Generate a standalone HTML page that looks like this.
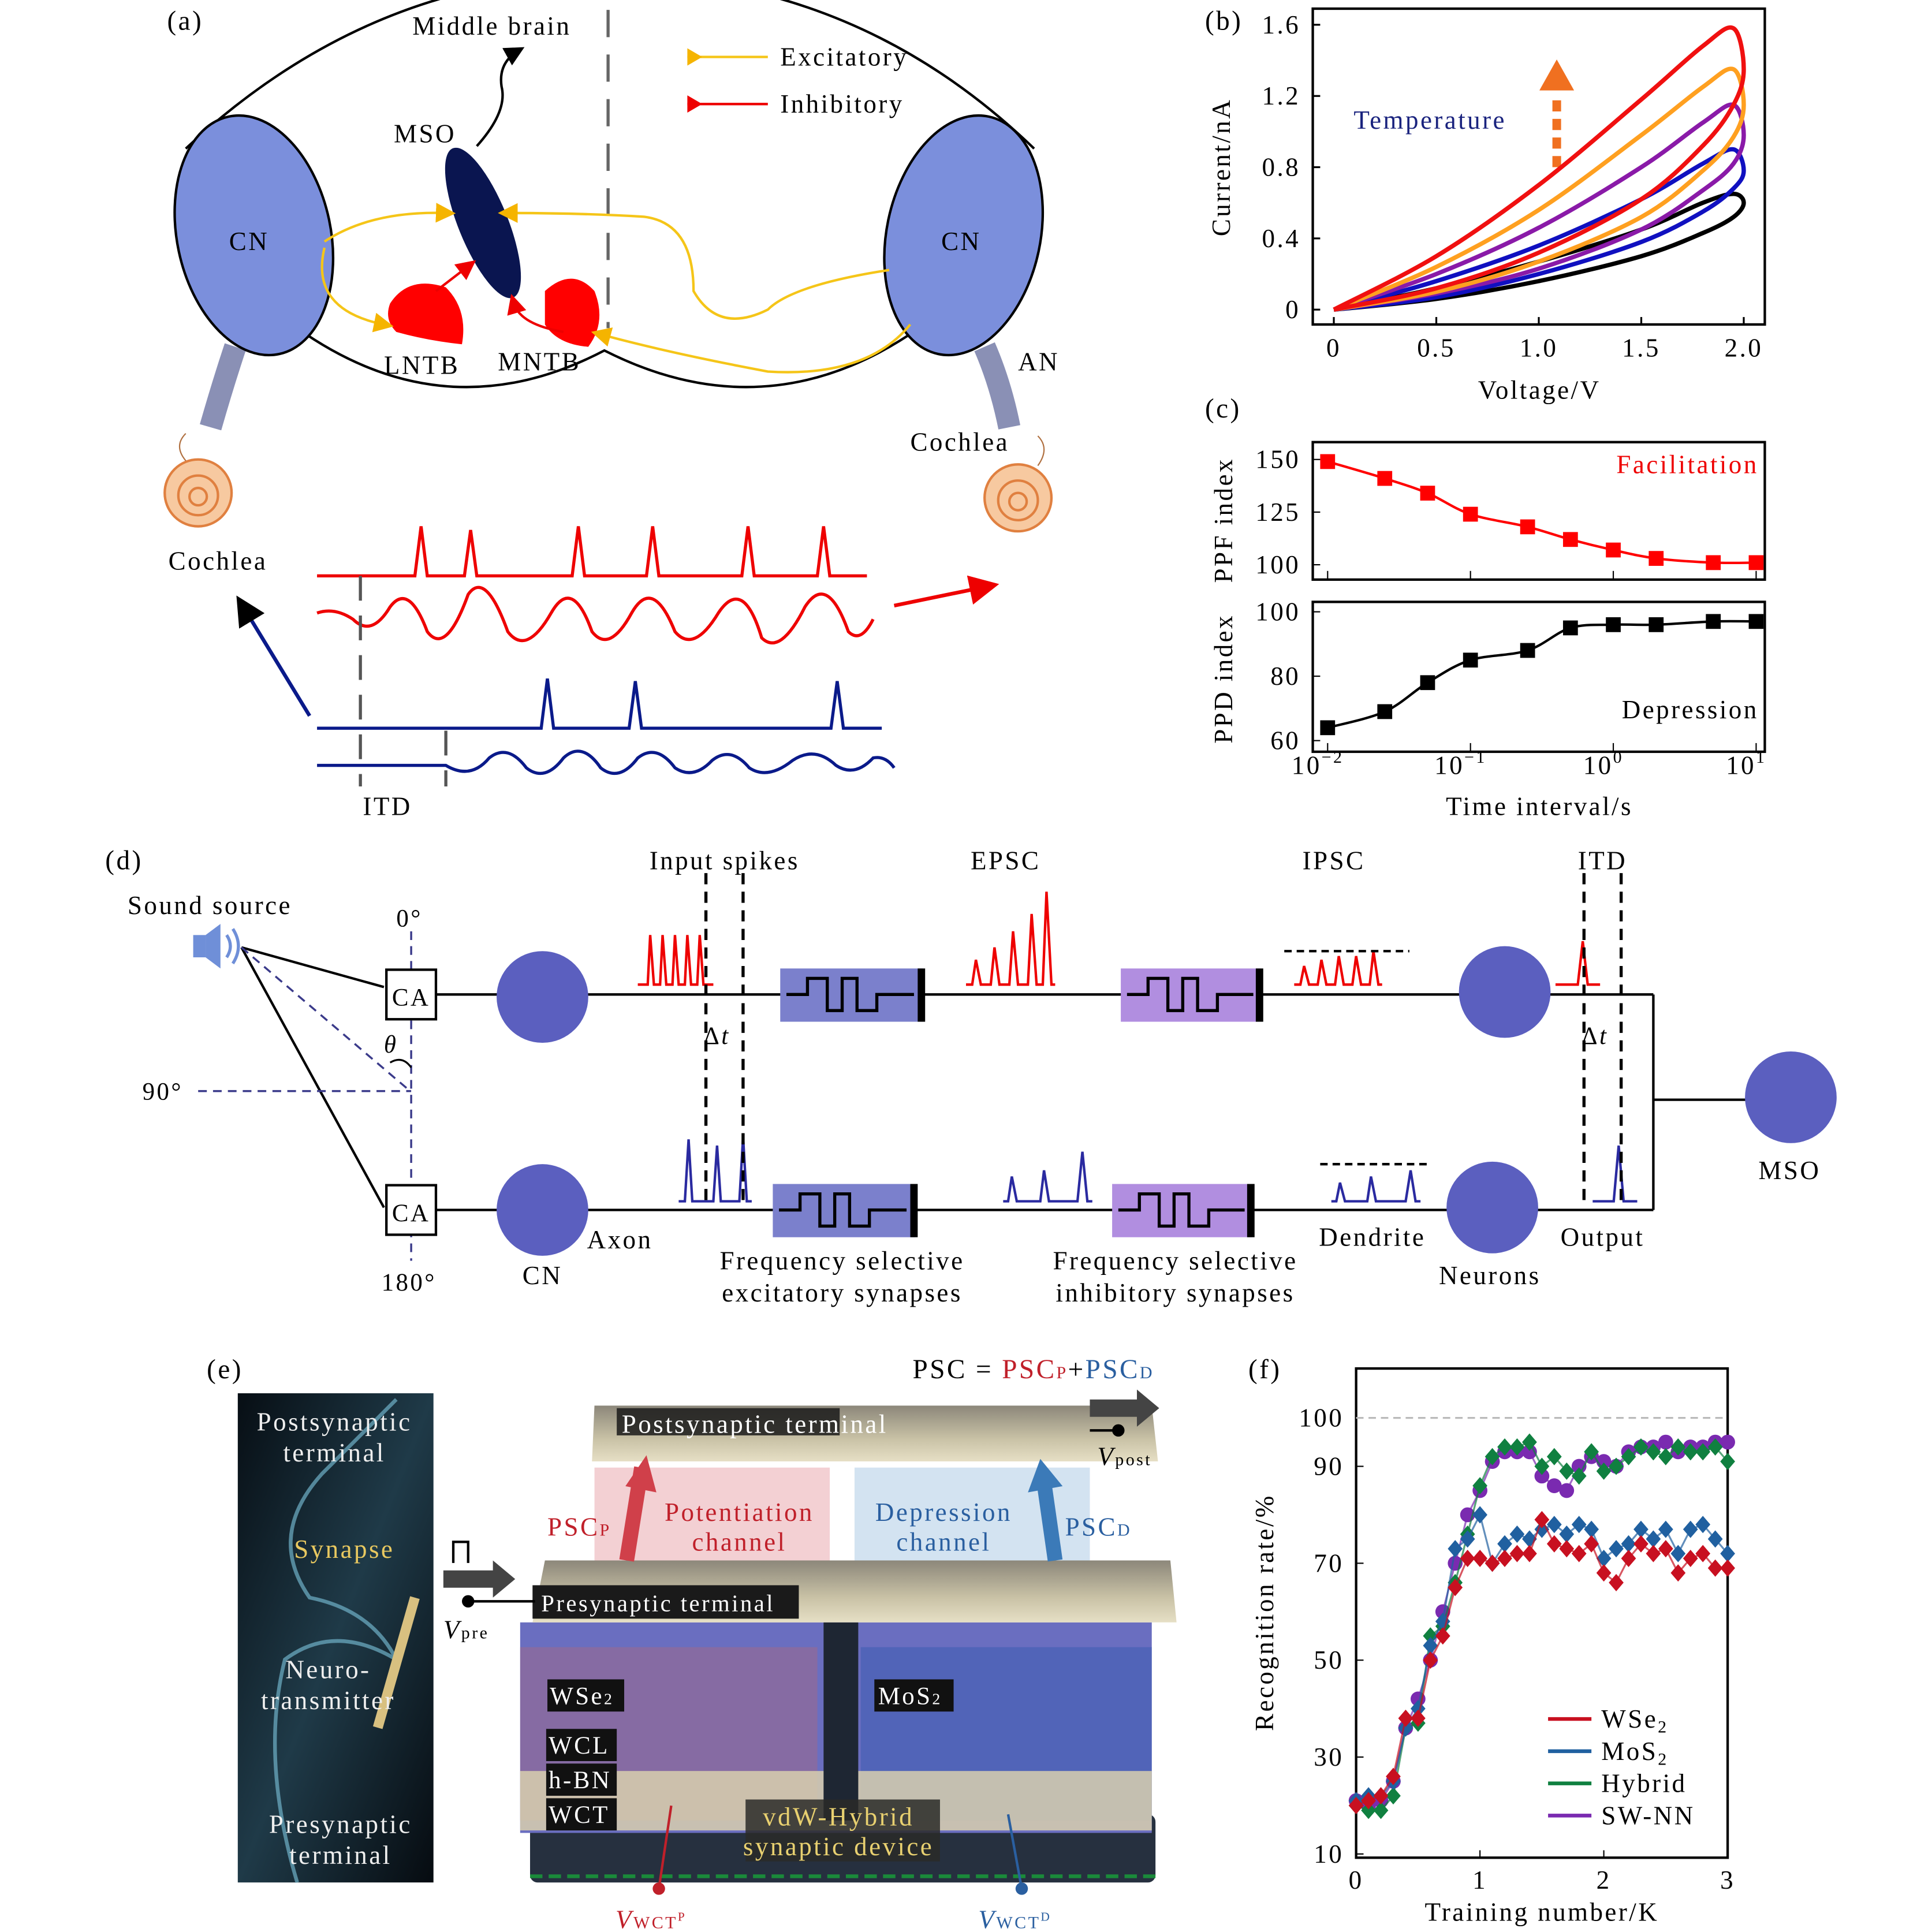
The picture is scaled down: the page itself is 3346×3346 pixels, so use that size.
<!DOCTYPE html>
<html><head><meta charset="utf-8"><style>
html,body{margin:0;padding:0;background:#fff;}
svg{display:block;}
text{font-family:"Liberation Serif",serif;letter-spacing:1.6px;}
</style></head><body>
<svg id="fig" width="3346" height="3346" viewBox="0 0 1560 1560" xmlns="http://www.w3.org/2000/svg">
<defs>
<marker id="arrK" markerWidth="8" markerHeight="8" refX="6" refY="4" orient="auto"><path d="M0,0 L8,4 L0,8 z" fill="#000"/></marker>
<marker id="arrY" markerWidth="8" markerHeight="8" refX="4" refY="4" orient="auto"><path d="M0,0 L8,4 L0,8 z" fill="#f5b400"/></marker>
<marker id="arrR" markerWidth="8" markerHeight="8" refX="4" refY="4" orient="auto"><path d="M0,0 L8,4 L0,8 z" fill="#e00"/></marker>
<linearGradient id="plate" x1="0" y1="0" x2="0" y2="1"><stop offset="0" stop-color="#8c877a"/><stop offset="0.6" stop-color="#c9c2a6"/><stop offset="1" stop-color="#e6dfc5"/></linearGradient>
<linearGradient id="photo" x1="0" y1="0" x2="1" y2="1"><stop offset="0" stop-color="#070e14"/><stop offset="0.5" stop-color="#1f3a48"/><stop offset="1" stop-color="#060b10"/></linearGradient>
</defs>

<!-- ================= PANEL A ================= -->
<g>
<text x="135" y="24" font-size="22">(a)</text>
<text x="333" y="28" font-size="21">Middle brain</text>
<path d="M150,120 Q300,-20 490,-20 Q690,-20 835,120" fill="none" stroke="#000" stroke-width="2"/>
<path d="M240,265 Q360,350 488,283 Q620,350 742,265" fill="none" stroke="#000" stroke-width="2"/>
<line x1="491" y1="8" x2="491" y2="265" stroke="#666" stroke-width="2.5" stroke-dasharray="22,14"/>
<path d="M190,280 Q180,310 170,345" stroke="#8a90b5" stroke-width="18" fill="none"/>
<path d="M795,280 Q808,310 815,345" stroke="#8a90b5" stroke-width="18" fill="none"/>
<ellipse cx="205" cy="190" rx="62" ry="98" fill="#7b8fdc" stroke="#000" stroke-width="2" transform="rotate(-12 205 190)"/>
<ellipse cx="778" cy="190" rx="62" ry="98" fill="#7b8fdc" stroke="#000" stroke-width="2" transform="rotate(12 778 190)"/>
<text x="185" y="202" font-size="21">CN</text>
<text x="760" y="202" font-size="21">CN</text>
<ellipse cx="390" cy="180" rx="20" ry="65" fill="#0a1550" transform="rotate(-22 390 180)"/>
<text x="318" y="115" font-size="21">MSO</text>
<path d="M385,118 Q410,90 405,70 Q402,50 420,40" fill="none" stroke="#000" stroke-width="2" marker-end="url(#arrK)"/>
<path d="M315,245 Q330,222 360,232 Q378,250 373,278 Q345,275 320,268 Q310,258 315,245z" fill="#f00"/>
<path d="M440,235 Q462,215 480,235 Q490,260 475,280 Q450,278 440,262z" fill="#f00"/>
<text x="310" y="302" font-size="21">LNTB</text>
<text x="402" y="299" font-size="21">MNTB</text>
<text x="822" y="299" font-size="21">AN</text>
<path d="M352,235 L378,215" stroke="#e00" stroke-width="2" marker-end="url(#arrR)" fill="none"/>
<path d="M455,268 Q420,262 415,245" stroke="#e00" stroke-width="2" marker-end="url(#arrR)" fill="none"/>
<path d="M262,195 Q300,170 360,172" stroke="#f5c518" stroke-width="2" fill="none" marker-end="url(#arrY)"/>
<path d="M262,200 Q250,250 310,262" stroke="#f5c518" stroke-width="2" fill="none" marker-end="url(#arrY)"/>
<path d="M718,218 Q640,230 620,250 Q580,270 560,235 Q560,180 520,175 Q470,172 410,172" stroke="#f5c518" stroke-width="2" fill="none" marker-end="url(#arrY)"/>
<path d="M735,262 Q700,305 620,300 Q540,285 485,270" stroke="#f5c518" stroke-width="2" fill="none" marker-end="url(#arrY)"/>
<line x1="555" y1="46" x2="620" y2="46" stroke="#f5c518" stroke-width="2"/>
<path d="M555,39 L567,46 L555,53z" fill="#f5b400"/>
<text x="630" y="53" font-size="21">Excitatory</text>
<line x1="555" y1="84" x2="620" y2="84" stroke="#e00" stroke-width="2"/>
<path d="M555,77 L567,84 L555,91z" fill="#e00"/>
<text x="630" y="91" font-size="21">Inhibitory</text>
<g><circle cx="160" cy="398" r="27" fill="#f7c9a0" stroke="#e08040" stroke-width="2"/><circle cx="160" cy="400" r="16" fill="none" stroke="#e08040" stroke-width="2"/><circle cx="160" cy="401" r="7" fill="none" stroke="#e08040" stroke-width="2"/><path d="M150,372 Q140,360 150,350" stroke="#b07040" fill="none"/></g>
<g><circle cx="822" cy="402" r="27" fill="#f7c9a0" stroke="#e08040" stroke-width="2"/><circle cx="822" cy="404" r="16" fill="none" stroke="#e08040" stroke-width="2"/><circle cx="822" cy="405" r="7" fill="none" stroke="#e08040" stroke-width="2"/><path d="M838,376 Q848,362 838,352" stroke="#b07040" fill="none"/></g>
<text x="136" y="460" font-size="21">Cochlea</text>
<text x="735" y="364" font-size="21">Cochlea</text>
<path d="M256,465 L335,465 L340,425 L345,465 L375,465 L380,428 L385,465 L462,465 L467,425 L472,465 L522,465 L527,425 L532,465 L599,465 L604,425 L609,465 L660,465 L665,425 L670,465 L700,465" stroke="#e00" stroke-width="2.5" fill="none"/>
<path d="M256,495 Q270,490 285,500 Q300,515 315,490 Q330,470 345,510 Q360,530 378,480 Q392,460 410,510 Q425,530 445,495 Q462,465 478,510 Q492,528 510,495 Q527,465 545,510 Q560,528 580,495 Q600,465 615,515 Q630,530 650,490 Q668,462 685,510 Q695,520 705,500" stroke="#e00" stroke-width="2.5" fill="none"/>
<path d="M256,588 L437,588 L442,548 L447,588 L508,588 L513,550 L518,588 L671,588 L676,550 L681,588 L712,588" stroke="#0a1a8a" stroke-width="2.5" fill="none"/>
<path d="M256,618 L360,618 Q380,630 395,612 Q410,600 425,620 Q440,632 455,612 Q470,598 485,620 Q500,632 515,612 Q530,600 545,620 Q560,630 575,614 Q590,602 605,620 Q620,630 640,614 Q658,602 675,618 Q690,628 705,612 Q715,610 722,620" stroke="#0a1a8a" stroke-width="2.5" fill="none"/>
<line x1="291" y1="465" x2="291" y2="635" stroke="#555" stroke-width="2.5" stroke-dasharray="20,12"/>
<line x1="360" y1="590" x2="360" y2="635" stroke="#555" stroke-width="2.5" stroke-dasharray="20,12"/>
<text x="293" y="658" font-size="21">ITD</text>
<line x1="250" y1="578" x2="194" y2="486" stroke="#0a1a8a" stroke-width="3" marker-end="url(#arrK)"/>
<line x1="722" y1="489" x2="795" y2="474" stroke="#e00" stroke-width="3" marker-end="url(#arrR)"/>
</g>

<!-- ================= PANEL B ================= -->
<g id="panelB">
<text x="973" y="24" font-size="22">(b)</text>
<rect x="1060" y="7" width="365" height="255" fill="none" stroke="#000" stroke-width="2"/>
<text transform="translate(993,135) rotate(-90)" font-size="21" text-anchor="middle">Current/nA</text>
<text x="1243" y="322" font-size="21" text-anchor="middle">Voltage/V</text>
<text x="1093" y="104" font-size="21" fill="#1a237e">Temperature</text>
<line x1="1257" y1="135" x2="1257" y2="78" stroke="#f07020" stroke-width="7" stroke-dasharray="9,6"/>
<path d="M1243,73 L1257,48 L1271,73z" fill="#f07020"/>
</g>

<!-- ================= PANEL C ================= -->
<g id="panelC">
<text x="973" y="337" font-size="22">(c)</text>
<rect x="1060" y="357" width="365" height="111" fill="none" stroke="#000" stroke-width="2"/>
<rect x="1060" y="486" width="365" height="121" fill="none" stroke="#000" stroke-width="2"/>
<text transform="translate(995,420) rotate(-90)" font-size="21" text-anchor="middle">PPF index</text>
<text transform="translate(995,548) rotate(-90)" font-size="21" text-anchor="middle">PPD index</text>
<text x="1420" y="382" font-size="21" fill="#e00" text-anchor="end">Facilitation</text>
<text x="1420" y="580" font-size="21" text-anchor="end">Depression</text>
<text x="1243" y="658" font-size="21" text-anchor="middle">Time interval/s</text>
</g>

<!-- ================= PANEL D ================= -->
<g>
<text x="85" y="702" font-size="22">(d)</text>
<text x="103" y="738" font-size="21">Sound source</text>
<g><rect x="156" y="755" width="10" height="18" fill="#6f8fd8"/><path d="M166,755 L178,746 L178,782 L166,773z" fill="#6f8fd8"/><path d="M183,755 Q189,764 183,773 M188,750 Q197,764 188,778" stroke="#6f8fd8" stroke-width="2.5" fill="none"/></g>
<line x1="195" y1="765" x2="310" y2="797" stroke="#000" stroke-width="2"/>
<line x1="195" y1="765" x2="310" y2="975" stroke="#000" stroke-width="2"/>
<line x1="195" y1="765" x2="330" y2="880" stroke="#3a3a8a" stroke-width="1.6" stroke-dasharray="7,5"/>
<line x1="332" y1="752" x2="332" y2="1018" stroke="#3a3a8a" stroke-width="1.6" stroke-dasharray="7,5"/>
<line x1="160" y1="881" x2="332" y2="881" stroke="#3a3a8a" stroke-width="1.6" stroke-dasharray="7,5"/>
<path d="M315,858 Q325,852 332,862" fill="none" stroke="#000" stroke-width="1.5"/>
<text x="310" y="850" font-size="20" font-style="italic">θ</text>
<text x="320" y="748" font-size="20">0°</text>
<text x="115" y="888" font-size="20">90°</text>
<text x="308" y="1042" font-size="20">180°</text>
<rect x="312" y="783" width="40" height="40" fill="#fff" stroke="#000" stroke-width="2"/>
<text x="332" y="812" font-size="20" text-anchor="middle">CA</text>
<rect x="312" y="957" width="40" height="40" fill="#fff" stroke="#000" stroke-width="2"/>
<text x="332" y="986" font-size="20" text-anchor="middle">CA</text>
<line x1="352" y1="803" x2="1335" y2="803" stroke="#000" stroke-width="2"/>
<line x1="352" y1="977" x2="1335" y2="977" stroke="#000" stroke-width="2"/>
<line x1="1335" y1="803" x2="1335" y2="977" stroke="#000" stroke-width="2"/>
<line x1="1335" y1="888" x2="1410" y2="888" stroke="#000" stroke-width="2"/>
<circle cx="438" cy="805" r="37" fill="#5b5fbf"/>
<circle cx="438" cy="977" r="37" fill="#5b5fbf"/>
<circle cx="1215" cy="801" r="37" fill="#5b5fbf"/>
<circle cx="1205" cy="975" r="37" fill="#5b5fbf"/>
<circle cx="1446" cy="886" r="37" fill="#5b5fbf"/>
<g><rect x="630" y="782" width="115" height="43" fill="#7b80cc"/><rect x="741" y="782" width="6" height="43" fill="#000"/><path d="M635,803 L652,803 L652,790 L668,790 L668,816 L680,816 L680,790 L692,790 L692,816 L708,816 L708,803 L738,803" stroke="#000" stroke-width="2.5" fill="none"/></g>
<g><rect x="624" y="956" width="115" height="43" fill="#7b80cc"/><rect x="735" y="956" width="6" height="43" fill="#000"/><path d="M629,977 L646,977 L646,964 L662,964 L662,990 L674,990 L674,964 L686,964 L686,990 L702,990 L702,977 L732,977" stroke="#000" stroke-width="2.5" fill="none"/></g>
<g><rect x="905" y="782" width="113" height="43" fill="#b18ee0"/><rect x="1014" y="782" width="6" height="43" fill="#000"/><path d="M910,803 L927,803 L927,790 L943,790 L943,816 L955,816 L955,790 L967,790 L967,816 L983,816 L983,803 L1012,803" stroke="#000" stroke-width="2.5" fill="none"/></g>
<g><rect x="898" y="956" width="113" height="43" fill="#b18ee0"/><rect x="1007" y="956" width="6" height="43" fill="#000"/><path d="M903,977 L920,977 L920,964 L936,964 L936,990 L948,990 L948,964 L960,964 L960,990 L976,990 L976,977 L1005,977" stroke="#000" stroke-width="2.5" fill="none"/></g>
<path d="M515,795 L523,795 L525,755 L528,795 L533,795 L535,755 L538,795 L543,795 L545,755 L548,795 L553,795 L555,755 L558,795 L563,795 L565,755 L568,795 L576,795" stroke="#e00" stroke-width="2" fill="none"/>
<path d="M548,970 L553,970 L556,920 L559,970 L576,970 L579,925 L582,970 L597,970 L600,918 L603,970 L607,970" stroke="#2a2aa0" stroke-width="2" fill="none"/>
<path d="M780,795 L785,795 L788,775 L792,795 L800,795 L803,765 L807,795 L815,795 L818,752 L822,795 L830,795 L833,738 L837,795 L842,795 L845,720 L849,795 L852,795" stroke="#e00" stroke-width="2" fill="none"/>
<path d="M810,970 L814,970 L817,950 L821,970 L840,970 L843,945 L847,970 L870,970 L874,930 L878,970 L882,970" stroke="#2a2aa0" stroke-width="2" fill="none"/>
<path d="M1045,795 L1050,795 L1053,780 L1057,795 L1064,795 L1067,775 L1071,795 L1078,795 L1081,772 L1085,795 L1092,795 L1095,772 L1099,795 L1106,795 L1109,768 L1113,795 L1116,795" stroke="#e00" stroke-width="2" fill="none"/>
<line x1="1037" y1="768" x2="1138" y2="768" stroke="#000" stroke-width="2" stroke-dasharray="6,4"/>
<path d="M1075,970 L1079,970 L1082,955 L1086,970 L1104,970 L1107,950 L1111,970 L1135,970 L1139,945 L1143,970 L1147,970" stroke="#2a2aa0" stroke-width="2" fill="none"/>
<line x1="1066" y1="940" x2="1152" y2="940" stroke="#000" stroke-width="2" stroke-dasharray="6,4"/>
<path d="M1256,795 L1274,795 L1278,760 L1282,795 L1292,795" stroke="#e00" stroke-width="2" fill="none"/>
<path d="M1286,970 L1303,970 L1307,925 L1311,970 L1322,970" stroke="#2a2aa0" stroke-width="2" fill="none"/>
<line x1="570" y1="705" x2="570" y2="975" stroke="#000" stroke-width="2.5" stroke-dasharray="9,6"/>
<line x1="600" y1="705" x2="600" y2="975" stroke="#000" stroke-width="2.5" stroke-dasharray="9,6"/>
<line x1="1279" y1="705" x2="1279" y2="975" stroke="#000" stroke-width="2.5" stroke-dasharray="9,6"/>
<line x1="1309" y1="705" x2="1309" y2="975" stroke="#000" stroke-width="2.5" stroke-dasharray="9,6"/>
<text x="568" y="843" font-size="20">Δ<tspan font-style="italic">t</tspan></text>
<text x="1277" y="843" font-size="20">Δ<tspan font-style="italic">t</tspan></text>
<text x="585" y="702" font-size="21" text-anchor="middle">Input spikes</text>
<text x="812" y="702" font-size="21" text-anchor="middle">EPSC</text>
<text x="1077" y="702" font-size="21" text-anchor="middle">IPSC</text>
<text x="1294" y="702" font-size="21" text-anchor="middle">ITD</text>
<text x="474" y="1008" font-size="21">Axon</text>
<text x="438" y="1037" font-size="21" text-anchor="middle">CN</text>
<text x="680" y="1025" font-size="21" text-anchor="middle">Frequency selective</text>
<text x="680" y="1051" font-size="21" text-anchor="middle">excitatory synapses</text>
<text x="949" y="1025" font-size="21" text-anchor="middle">Frequency selective</text>
<text x="949" y="1051" font-size="21" text-anchor="middle">inhibitory synapses</text>
<text x="1065" y="1006" font-size="21">Dendrite</text>
<text x="1203" y="1037" font-size="21" text-anchor="middle">Neurons</text>
<text x="1294" y="1006" font-size="21" text-anchor="middle">Output</text>
<text x="1445" y="952" font-size="21" text-anchor="middle">MSO</text>
</g>

<!-- ================= PANEL E ================= -->
<g>
<text x="167" y="1113" font-size="22">(e)</text>
<text x="932" y="1113" font-size="22" text-anchor="end">PSC = <tspan fill="#c0202a">PSC<tspan font-size="14">P</tspan></tspan>+<tspan fill="#2a5fa0">PSC<tspan font-size="14">D</tspan></tspan></text>
<rect x="192" y="1125" width="158" height="395" fill="url(#photo)"/>
<path d="M240,1520 Q210,1420 230,1340 Q270,1310 320,1340 Q300,1300 250,1290 Q215,1240 260,1190 Q300,1150 320,1130" fill="none" stroke="#6fb0c8" stroke-width="3" opacity="0.7"/>
<path d="M305,1395 L335,1290" stroke="#d8c080" stroke-width="8"/>
<text x="270" y="1155" font-size="21" fill="#eee" text-anchor="middle">Postsynaptic</text>
<text x="270" y="1180" font-size="21" fill="#eee" text-anchor="middle">terminal</text>
<text x="278" y="1258" font-size="21" fill="#e8c860" text-anchor="middle">Synapse</text>
<text x="265" y="1355" font-size="21" fill="#eee" text-anchor="middle">Neuro-</text>
<text x="265" y="1380" font-size="21" fill="#eee" text-anchor="middle">transmitter</text>
<text x="275" y="1480" font-size="21" fill="#eee" text-anchor="middle">Presynaptic</text>
<text x="275" y="1505" font-size="21" fill="#eee" text-anchor="middle">terminal</text>
<rect x="480" y="1185" width="190" height="80" fill="#f0c4c8" opacity="0.8"/>
<rect x="690" y="1185" width="190" height="80" fill="#c8dcee" opacity="0.8"/>
<rect x="428" y="1465" width="505" height="55" rx="6" fill="#26303f"/>
<path d="M428,1515 L935,1515" stroke="#1a8a3a" stroke-width="3" stroke-dasharray="10,5"/>
<rect x="420" y="1310" width="510" height="170" fill="#6a6ec0"/>
<rect x="420" y="1330" width="240" height="140" fill="#9c6a8a" opacity="0.55"/>
<rect x="695" y="1330" width="235" height="140" fill="#3c5cb0" opacity="0.55"/>
<rect x="420" y="1430" width="510" height="48" fill="#d8cfae" opacity="0.85"/>
<rect x="665" y="1310" width="28" height="160" fill="#1e2633"/>
<path d="M440,1260 L945,1260 L950,1310 L430,1310z" fill="url(#plate)"/>
<path d="M480,1135 L930,1135 L935,1180 L478,1180z" fill="url(#plate)"/>
<rect x="498" y="1137" width="180" height="22" fill="#1a1a1a" opacity="0.85"/>
<text x="502" y="1157" font-size="21" fill="#fff">Postsynaptic terminal</text>
<rect x="430" y="1280" width="215" height="27" fill="#1a1a1a"/>
<text x="437" y="1301" font-size="19" fill="#fff">Presynaptic terminal</text>
<path d="M506,1260 L518,1185" stroke="#d0404a" stroke-width="12"/>
<path d="M505,1200 L522,1175 L530,1205z" fill="#d0404a"/>
<path d="M852,1260 L842,1190" stroke="#3b7ab8" stroke-width="12"/>
<path d="M830,1205 L840,1178 L858,1200z" fill="#3b7ab8"/>
<text x="442" y="1240" font-size="21" fill="#c0202a">PSC<tspan font-size="14">P</tspan></text>
<text x="597" y="1228" font-size="21" fill="#c0202a" text-anchor="middle">Potentiation</text>
<text x="597" y="1252" font-size="21" fill="#c0202a" text-anchor="middle">channel</text>
<text x="762" y="1228" font-size="21" fill="#2a5fa0" text-anchor="middle">Depression</text>
<text x="762" y="1252" font-size="21" fill="#2a5fa0" text-anchor="middle">channel</text>
<text x="860" y="1240" font-size="21" fill="#2a5fa0">PSC<tspan font-size="14">D</tspan></text>
<path d="M358,1268 L398,1268 L398,1260 L416,1275 L398,1290 L398,1282 L358,1282z" fill="#444"/>
<path d="M366,1262 L366,1245 L378,1245 L378,1262" stroke="#000" stroke-width="2" fill="none"/>
<circle cx="378" cy="1293" r="5" fill="#000"/><line x1="378" y1="1293" x2="432" y2="1293" stroke="#000" stroke-width="2"/>
<text x="358" y="1323" font-size="21" font-style="italic">V<tspan font-size="14" font-style="normal">pre</tspan></text>
<path d="M880,1130 L918,1130 L918,1122 L936,1137 L918,1152 L918,1144 L880,1144z" fill="#444"/>
<circle cx="903" cy="1155" r="5" fill="#000"/><line x1="880" y1="1155" x2="903" y2="1155" stroke="#000" stroke-width="2"/>
<text x="886" y="1183" font-size="21" font-style="italic">V<tspan font-size="14" font-style="normal">post</tspan></text>
<rect x="442" y="1356" width="62" height="26" fill="#111"/><text x="444" y="1376" font-size="20" fill="#fff">WSe<tspan font-size="13">2</tspan></text>
<rect x="706" y="1356" width="64" height="26" fill="#111"/><text x="709" y="1376" font-size="20" fill="#fff">MoS<tspan font-size="13">2</tspan></text>
<rect x="441" y="1396" width="57" height="26" fill="#111"/><text x="443" y="1416" font-size="20" fill="#fff">WCL</text>
<rect x="441" y="1424" width="57" height="26" fill="#111"/><text x="443" y="1444" font-size="20" fill="#fff">h-BN</text>
<rect x="441" y="1452" width="57" height="26" fill="#111"/><text x="443" y="1472" font-size="20" fill="#fff">WCT</text>
<rect x="602" y="1453" width="157" height="50" fill="#2a2a28" opacity="0.85"/>
<text x="677" y="1474" font-size="21" fill="#e8d070" text-anchor="middle">vdW-Hybrid</text>
<text x="677" y="1498" font-size="21" fill="#e8d070" text-anchor="middle">synaptic device</text>
<line x1="542" y1="1458" x2="532" y2="1525" stroke="#c0202a" stroke-width="2"/><circle cx="532" cy="1525" r="5" fill="#c0202a"/>
<line x1="814" y1="1465" x2="825" y2="1525" stroke="#2a5fa0" stroke-width="2"/><circle cx="825" cy="1525" r="5" fill="#2a5fa0"/>
<text x="497" y="1557" font-size="21" font-style="italic" fill="#c0202a">V<tspan font-size="14" font-style="normal">WCT<tspan font-size="10" dy="-6">P</tspan></tspan></text>
<text x="790" y="1557" font-size="21" font-style="italic" fill="#2a5fa0">V<tspan font-size="14" font-style="normal">WCT<tspan font-size="10" dy="-6">D</tspan></tspan></text>
</g>

<!-- ================= PANEL F ================= -->
<g id="panelF">
<text x="1008" y="1113" font-size="22">(f)</text>
<rect x="1095" y="1105" width="300" height="395" fill="none" stroke="#000" stroke-width="2"/>
<text transform="translate(1028,1302) rotate(-90)" font-size="21" text-anchor="middle">Recognition rate/%</text>
<text x="1245" y="1551" font-size="21" text-anchor="middle">Training number/K</text>
</g>
</svg>
<script>
// ---------- Panel B data ----------
const bVoltages = [0, 0.5, 1.0, 1.5, 1.8, 1.95, 2.0];
const bBlackLower = [0, 0.06, 0.16, 0.30, 0.43, 0.52, 0.60];
const bBlackUpper = [0, 0.12, 0.27, 0.45, 0.60, 0.65, 0.60];
const bBlueLower = [0, 0.07, 0.20, 0.38, 0.55, 0.68, 0.78];
const bBlueUpper = [0, 0.16, 0.36, 0.62, 0.82, 0.90, 0.78];
const bPurpleLower = [0, 0.09, 0.23, 0.45, 0.67, 0.82, 0.98];
const bPurpleUpper = [0, 0.20, 0.46, 0.80, 1.05, 1.15, 0.98];
const bOrangeLower = [0, 0.10, 0.27, 0.52, 0.78, 0.97, 1.15];
const bOrangeUpper = [0, 0.24, 0.56, 0.98, 1.25, 1.35, 1.15];
const bRedLower = [0, 0.12, 0.32, 0.62, 0.92, 1.15, 1.35];
const bRedUpper = [0, 0.30, 0.70, 1.18, 1.48, 1.58, 1.35];
const bXTicks = [0, 0.5, 1.0, 1.5, 2.0];
const bXTickLabels = ["0", "0.5", "1.0", "1.5", "2.0"];
const bYTicks = [0, 0.4, 0.8, 1.2, 1.6];
const bYTickLabels = ["0", "0.4", "0.8", "1.2", "1.6"];
// ---------- Panel C data ----------
const cLogIntervals = [-2, -1.6, -1.3, -1, -0.6, -0.3, 0, 0.3, 0.7, 1];
const ppfValues = [149, 141, 134, 124, 118, 112, 107, 103, 101, 101];
const ppdValues = [64, 69, 78, 85, 88, 95, 96, 96, 97, 97];
const ppfTicks = [100, 125, 150];
const ppdTicks = [60, 80, 100];
const cXTicks = [-2, -1, 0, 1];
const cXTickLabels = ["10", "10", "10", "10"];
const cXTickExps = ["−2", "−1", "0", "1"];
// ---------- Panel F data ----------
const fTraining = [0,0.1,0.2,0.3,0.4,0.5,0.6,0.7,0.8,0.9,1.0,1.1,1.2,1.3,1.4,1.5,1.6,1.7,1.8,1.9,2.0,2.1,2.2,2.3,2.4,2.5,2.6,2.7,2.8,2.9,3.0];
const fWSe2 = [20,21,22,26,38,38,50,55,65,71,71,70,71,72,72,79,74,73,72,74,68,66,71,74,72,73,68,71,72,69,69];
const fMoS2 = [21,22,22,25,36,40,53,58,73,75,80,70,74,76,75,77,78,76,78,77,71,73,74,77,75,77,72,77,78,75,72];
const fHybrid = [20,19,19,22,36,37,55,57,66,76,86,92,94,94,95,90,92,89,88,93,89,90,92,94,93,92,94,93,93,94,91];
const fSWNN = [21,20,21,25,36,42,50,60,70,80,85,91,93,93,93,88,86,85,90,92,91,90,93,94,94,95,93,94,94,95,95];
const fXTicks = [0, 1, 2, 3];
const fYTicks = [10, 30, 50, 70, 90];
const fLegendLabels = ["WSe", "MoS", "Hybrid", "SW-NN"];

const NS = "http://www.w3.org/2000/svg";
function mk(parent, tag, attrs, txt) {
  const e = document.createElementNS(NS, tag);
  for (const k in attrs) e.setAttribute(k, attrs[k]);
  if (txt !== undefined) e.textContent = txt;
  parent.appendChild(e);
  return e;
}
function smooth(pts) {
  let d = "M" + pts[0][0] + "," + pts[0][1];
  for (let i = 0; i < pts.length - 1; i++) {
    const p0 = pts[Math.max(0, i - 1)], p1 = pts[i], p2 = pts[i + 1], p3 = pts[Math.min(pts.length - 1, i + 2)];
    const c1 = [p1[0] + (p2[0] - p0[0]) / 6, p1[1] + (p2[1] - p0[1]) / 6];
    const c2 = [p2[0] - (p3[0] - p1[0]) / 6, p2[1] - (p3[1] - p1[1]) / 6];
    d += " C" + c1 + " " + c2 + " " + p2;
  }
  return d;
}

// ---- Panel B ----
(function () {
  const g = document.getElementById("panelB");
  const bx = v => 1077 + v * (1408 - 1077) / 2;
  const by = v => 250 - v * (250 - 20) / 1.6;
  bXTicks.forEach((t, i) => {
    const tk = mk(g, "line", { x1: bx(t), y1: 262, x2: bx(t), y2: 256, stroke: "#000", "stroke-width": 1.5 });
    
    
    const l = mk(g, "text", { x: bx(t), y: 288, "font-size": 21, "text-anchor": "middle" }, bXTickLabels[i]);
    
    
  });
  bYTicks.forEach((t, i) => {
    const tk = mk(g, "line", { x1: 1060, y1: by(t), x2: 1066, y2: by(t), stroke: "#000", "stroke-width": 1.5 });
    
    
    const l = mk(g, "text", { x: 1050, y: by(t) + 7, "font-size": 21, "text-anchor": "end" }, bYTickLabels[i]);
    
    
  });
  const series = [[bBlackLower, bBlackUpper, "#000", "loop-black"], [bBlueLower, bBlueUpper, "#1010c0", "loop-blue"], [bPurpleLower, bPurpleUpper, "#8a1aa8", "loop-purple"], [bOrangeLower, bOrangeUpper, "#ffa020", "loop-orange"], [bRedLower, bRedUpper, "#f01010", "loop-red"]];
  series.forEach(s => {
    const pts = [];
    bVoltages.forEach((v, i) => pts.push([bx(v), by(s[0][i])]));
    for (let i = bVoltages.length - 2; i >= 0; i--) pts.push([bx(bVoltages[i]), by(s[1][i])]);
    const p = mk(g, "path", { d: smooth(pts), fill: "none", stroke: s[2], "stroke-width": 3.5 });
    
    
  });
})();

// ---- Panel C ----
(function () {
  const g = document.getElementById("panelC");
  const cx = v => 1072 + (v + 2) * (1418 - 1072) / 3;
  const fy = v => 456 - (v - 100) * (456 - 371) / 50;
  const dy = v => 598 - (v - 60) * (598 - 494) / 40;
  ppfTicks.forEach(t => {
    const l = mk(g, "text", { x: 1050, y: fy(t) + 7, "font-size": 21, "text-anchor": "end" }, String(t));
    
    
    mk(g, "line", { x1: 1060, y1: fy(t), x2: 1066, y2: fy(t), stroke: "#000" });
  });
  ppdTicks.forEach(t => {
    const l = mk(g, "text", { x: 1050, y: dy(t) + 7, "font-size": 21, "text-anchor": "end" }, String(t));
    
    
    mk(g, "line", { x1: 1060, y1: dy(t), x2: 1066, y2: dy(t), stroke: "#000" });
  });
  cXTicks.forEach((t, i) => {
    const l = mk(g, "text", { x: cx(t) - 8, y: 625, "font-size": 21, "text-anchor": "middle" }, cXTickLabels[i]);
    
    
    mk(l, "tspan", { dy: -9, "font-size": 14 }, cXTickExps[i]);
    mk(g, "line", { x1: cx(t), y1: 607, x2: cx(t), y2: 600, stroke: "#000" });
    mk(g, "line", { x1: cx(t), y1: 468, x2: cx(t), y2: 461, stroke: "#000" });
  });
  const pf = cLogIntervals.map((v, i) => [cx(v), fy(ppfValues[i])]);
  const pd = cLogIntervals.map((v, i) => [cx(v), dy(ppdValues[i])]);
  const l1 = mk(g, "path", { d: smooth(pf), fill: "none", stroke: "#f00", "stroke-width": 2 });
  
  
  const l2 = mk(g, "path", { d: smooth(pd), fill: "none", stroke: "#000", "stroke-width": 2 });
  
  
  pf.forEach(p => {
    const r = mk(g, "rect", { x: p[0] - 6, y: p[1] - 6, width: 12, height: 12, fill: "#f00" });
    
    
  });
  pd.forEach(p => {
    const r = mk(g, "rect", { x: p[0] - 6, y: p[1] - 6, width: 12, height: 12, fill: "#000" });
    
    
  });
})();

// ---- Panel F ----
(function () {
  const g = document.getElementById("panelF");
  const fx = v => 1095 + v * 100;
  const fyy = v => 1497 - (v - 10) * (1497 - 1184) / 80;
  const ref = mk(g, "line", { x1: 1095, y1: fyy(100), x2: 1395, y2: fyy(100), stroke: "#bbb", "stroke-width": 1.5, "stroke-dasharray": "6,4" });
  
  
  const l100 = mk(g, "text", { x: 1085, y: fyy(100) + 7, "font-size": 21, "text-anchor": "end" }, "100");
  
  
  fYTicks.forEach(t => {
    const l = mk(g, "text", { x: 1085, y: fyy(t) + 7, "font-size": 21, "text-anchor": "end" }, String(t));
    
    
    mk(g, "line", { x1: 1095, y1: fyy(t), x2: 1101, y2: fyy(t), stroke: "#000" });
  });
  fXTicks.forEach(t => {
    const l = mk(g, "text", { x: fx(t), y: 1525, "font-size": 21, "text-anchor": "middle" }, String(t));
    
    
    mk(g, "line", { x1: fx(t), y1: 1500, x2: fx(t), y2: 1494, stroke: "#000" });
  });
  const series = [[fSWNN, "#7a2ab0", "circle", "series-sw-nn"], [fHybrid, "#108040", "diamond", "series-hybrid"], [fMoS2, "#2060a0", "diamond", "series-mos2"], [fWSe2, "#c81020", "diamond", "series-wse2"]];
  series.forEach(s => {
    const pts = fTraining.map((t, i) => [fx(t), fyy(s[0][i])]);
    const pl = mk(g, "polyline", { points: pts.map(p => p.join(",")).join(" "), fill: "none", stroke: s[1], "stroke-width": 1.5, opacity: 0.7 });
    
    
    pts.forEach(p => {
      let m;
      if (s[2] === "circle") m = mk(g, "circle", { cx: p[0], cy: p[1], r: 6, fill: s[1] });
      else m = mk(g, "path", { d: `M${p[0]},${p[1] - 7} L${p[0] + 6},${p[1]} L${p[0]},${p[1] + 7} L${p[0] - 6},${p[1]}z`, fill: s[1] });
      
      
    });
  });
  const cols = ["#c81020", "#2060a0", "#108040", "#7a2ab0"];
  fLegendLabels.forEach((lab, i) => {
    const y = 1388 + i * 26;
    const ln = mk(g, "line", { x1: 1250, y1: y, x2: 1285, y2: y, stroke: cols[i], "stroke-width": 3 });
    
    
    const t = mk(g, "text", { x: 1293, y: y + 7, "font-size": 21 }, lab);
    
    
    if (i < 2) mk(t, "tspan", { "font-size": 14, dy: 4 }, "2");
  });
})();
</script>
</body></html>
